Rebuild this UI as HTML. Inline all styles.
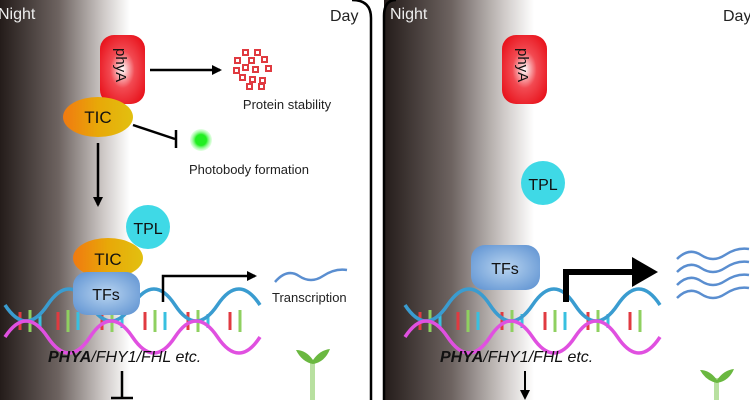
<!DOCTYPE html>
<html><head><meta charset="utf-8"><style>
html,body{margin:0;padding:0;background:#fff;}
svg{display:block;font-family:"Liberation Sans",Arial,sans-serif;}
</style></head><body>
<svg width="750" height="400" viewBox="0 0 750 400" xmlns="http://www.w3.org/2000/svg">
<defs>
<linearGradient id="nl" x1="0" x2="1" y1="0" y2="0">
<stop offset="0" stop-color="#241c1a"/><stop offset="0.45" stop-color="#6d6360"/><stop offset="0.8" stop-color="#cfcac8"/><stop offset="1" stop-color="#fff"/></linearGradient>
<radialGradient id="red" cx="0.5" cy="0.5" r="0.6"><stop offset="0" stop-color="#fff"/><stop offset="0.45" stop-color="#f24a52"/><stop offset="1" stop-color="#e8131c"/></radialGradient>
<linearGradient id="tic" x1="0" x2="1"><stop offset="0" stop-color="#f07a10"/><stop offset="0.5" stop-color="#e8a808"/><stop offset="1" stop-color="#e2c010"/></linearGradient>
<radialGradient id="tf" cx="0.5" cy="0.5" r="0.7"><stop offset="0" stop-color="#b8d4f0"/><stop offset="1" stop-color="#5a8fd0"/></radialGradient>
<radialGradient id="gd" cx="0.5" cy="0.5" r="0.5"><stop offset="0.5" stop-color="#22ee22"/><stop offset="1" stop-color="#aaffaa" stop-opacity="0.3"/></radialGradient>
<marker id="ah" markerWidth="10" markerHeight="10" refX="8" refY="5" orient="auto" markerUnits="userSpaceOnUse"><path d="M0,0 L10,5 L0,10 Z" fill="#000"/></marker>
</defs>
<rect x="0" y="0" width="130" height="400" fill="url(#nl)"/>
<path d="M352,0 Q371,0 371,18 L371,400" fill="none" stroke="#000" stroke-width="2.5"/>
<text x="-2" y="19" font-size="16" fill="#eee">Night</text>
<text x="330" y="21" font-size="16" fill="#222">Day</text>
<rect x="384" y="0" width="150" height="400" fill="url(#nl)"/>
<path d="M384,400 L384,16 Q384,0 396,0" fill="none" stroke="#000" stroke-width="2.5"/>
<text x="390" y="19" font-size="16" fill="#eee">Night</text>
<text x="723" y="21" font-size="16" fill="#222">Day</text>

<rect x="100" y="35" width="45" height="69" rx="14" fill="url(#red)"/>
<text transform="translate(116,48) rotate(90)" font-size="15" fill="#111">phyA</text>
<ellipse cx="98" cy="117" rx="35" ry="20" fill="url(#tic)"/>
<text x="98" y="123" font-size="17" text-anchor="middle" fill="#111">TIC</text>
<line x1="150" y1="70" x2="220" y2="70" stroke="#000" stroke-width="2.5" marker-end="url(#ah)"/>
<g fill="none" stroke="#e03a40" stroke-width="2">
<rect x="243" y="50" width="5" height="5"/><rect x="255" y="50" width="5" height="5"/><rect x="235" y="58" width="5" height="5"/><rect x="249" y="58" width="5" height="5"/><rect x="262" y="57" width="5" height="5"/><rect x="234" y="68" width="5" height="5"/><rect x="243" y="65" width="5" height="5"/><rect x="253" y="67" width="5" height="5"/><rect x="266" y="66" width="5" height="5"/><rect x="240" y="75" width="5" height="5"/><rect x="250" y="77" width="5" height="5"/><rect x="260" y="78" width="5" height="5"/><rect x="247" y="84" width="5" height="5"/><rect x="259" y="84" width="5" height="5"/></g>
<text x="287" y="109" font-size="13" text-anchor="middle" fill="#222">Protein stability</text>
<line x1="133" y1="125" x2="175" y2="139" stroke="#000" stroke-width="2.5"/>
<line x1="176" y1="130" x2="176" y2="148" stroke="#000" stroke-width="2.5"/>
<circle cx="201" cy="140" r="11" fill="url(#gd)"/>
<text x="189" y="174" font-size="13" fill="#222">Photobody formation</text>
<line x1="98" y1="143" x2="98" y2="205" stroke="#000" stroke-width="2.5" marker-end="url(#ah)"/>
<circle cx="148" cy="227" r="22" fill="#3fd9e6"/>
<text x="148" y="234" font-size="16" text-anchor="middle" fill="#111">TPL</text>
<g id="dna">
<g stroke-width="3">
<line x1="20" y1="312" x2="20" y2="330" stroke="#e03a40"/><line x1="30" y1="310" x2="30" y2="332" stroke="#8fd060"/><line x1="40" y1="314" x2="40" y2="328" stroke="#38c0e0"/>
<line x1="58" y1="312" x2="58" y2="330" stroke="#e03a40"/><line x1="68" y1="310" x2="68" y2="332" stroke="#8fd060"/><line x1="78" y1="312" x2="78" y2="330" stroke="#38c0e0"/>
<line x1="102" y1="312" x2="102" y2="330" stroke="#e03a40"/><line x1="112" y1="310" x2="112" y2="332" stroke="#8fd060"/><line x1="122" y1="314" x2="122" y2="328" stroke="#38c0e0"/>
<line x1="145" y1="312" x2="145" y2="330" stroke="#e03a40"/><line x1="155" y1="310" x2="155" y2="332" stroke="#8fd060"/><line x1="165" y1="312" x2="165" y2="330" stroke="#38c0e0"/>
<line x1="188" y1="312" x2="188" y2="330" stroke="#e03a40"/><line x1="198" y1="310" x2="198" y2="332" stroke="#8fd060"/><line x1="208" y1="314" x2="208" y2="328" stroke="#38c0e0"/>
<line x1="230" y1="312" x2="230" y2="330" stroke="#e03a40"/><line x1="240" y1="310" x2="240" y2="332" stroke="#8fd060"/>
</g>
<path d="M5,305 q21,32 42.5,0 t42.5,0 t42.5,0 t42.5,0 t42.5,0 t42.5,0" fill="none" stroke="#3a9cd0" stroke-width="3.5"/>
<path d="M5,337 q21,-32 42.5,0 t42.5,0 t42.5,0 t42.5,0 t42.5,0 t42.5,0" fill="none" stroke="#e050e0" stroke-width="3.5"/>
</g>
<ellipse cx="108" cy="258" rx="35" ry="20" fill="url(#tic)"/>
<text x="108" y="265" font-size="17" text-anchor="middle" fill="#111">TIC</text>
<rect x="73" y="272" width="67" height="43" rx="14" fill="url(#tf)"/>
<text x="106" y="300" font-size="16" text-anchor="middle" fill="#111">TFs</text>
<polyline points="163,302 163,276 255,276" fill="none" stroke="#000" stroke-width="2.5" marker-end="url(#ah)"/>
<path d="M275,282 q12,-14 24,-6 t24,0 t24,-6" fill="none" stroke="#5a8ed0" stroke-width="2.5"/>
<text x="272" y="302" font-size="13" fill="#222">Transcription</text>
<text x="48" y="362" font-size="16" font-style="italic" fill="#111"><tspan font-weight="bold">PHYA</tspan>/FHY1/FHL etc.</text>
<line x1="122" y1="371" x2="122" y2="398" stroke="#000" stroke-width="2.5"/>
<line x1="111" y1="398" x2="133" y2="398" stroke="#000" stroke-width="2.5"/>
<rect x="310" y="360" width="5" height="40" fill="#b8e0a0"/>
<path d="M313,364 Q302,362 296,350 Q306,350 313,360 Q320,350 330,349 Q325,362 313,364 Z" fill="#6ab840"/>

<rect x="502" y="35" width="45" height="69" rx="14" fill="url(#red)"/>
<text transform="translate(518,48) rotate(90)" font-size="15" fill="#111">phyA</text>
<circle cx="543" cy="183" r="22" fill="#3fd9e6"/>
<text x="543" y="190" font-size="16" text-anchor="middle" fill="#111">TPL</text>
<rect x="471" y="245" width="69" height="45" rx="14" fill="url(#tf)"/>
<text x="505" y="274" font-size="16" text-anchor="middle" fill="#111">TFs</text>
<use href="#dna" transform="translate(400,0)"/>
<polyline points="566,302 566,272 640,272" fill="none" stroke="#000" stroke-width="6"/>
<path d="M632,257 L658,272 L632,287 Z" fill="#000"/>
<g fill="none" stroke="#5a8ed0" stroke-width="2.5">
<path d="M677,259 q12,-12 24,-4 t24,0 t24,-6"/>
<path d="M677,272 q12,-12 24,-4 t24,0 t24,-6"/>
<path d="M677,285 q12,-12 24,-4 t24,0 t24,-6"/>
<path d="M677,298 q12,-12 24,-4 t24,0 t24,-6"/>
</g>
<text x="440" y="362" font-size="16" font-style="italic" fill="#111"><tspan font-weight="bold">PHYA</tspan>/FHY1/FHL etc.</text>
<line x1="525" y1="371" x2="525" y2="398" stroke="#000" stroke-width="2" marker-end="url(#ah)"/>
<rect x="714" y="378" width="5" height="22" fill="#b8e0a0"/>
<path d="M717,383 Q706,381 700,370 Q710,370 717,380 Q724,370 734,369 Q729,381 717,383 Z" fill="#6ab840"/>
</svg>
</body></html>
